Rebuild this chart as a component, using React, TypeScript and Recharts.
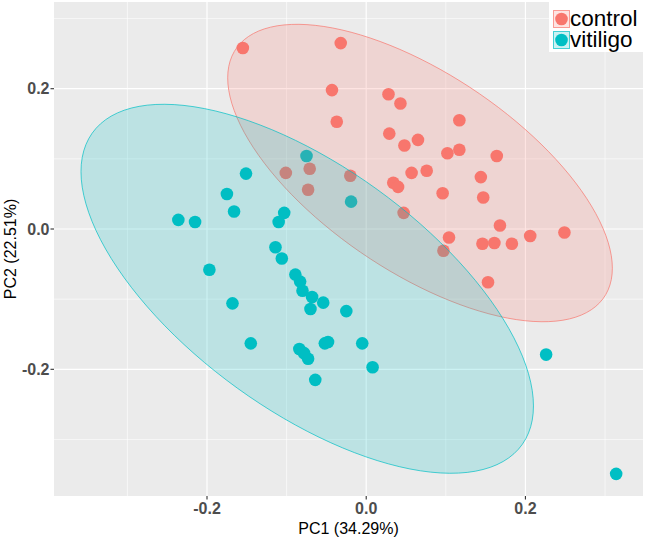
import { CartesianGrid, Label, Legend, Scatter, ScatterChart, XAxis, YAxis } from 'recharts';

// PCA scores
const controlPC1 = [
    -0.155, -0.032, -0.043, 0.028, 0.043, -0.037, 0.029, 0.048, 0.065, 0.117, 0.102, 0.117,
    0.164, 0.057, 0.076, 0.034, 0.040, 0.096, 0.144, 0.147, 0.047, 0.168, 0.104, 0.097,
    0.146, 0.161, 0.183, 0.206, 0.249, 0.153, -0.101, -0.071, -0.020, -0.073,
];
const controlPC2 = [
    0.258, 0.265, 0.198, 0.192, 0.179, 0.153, 0.136, 0.119, 0.127, 0.155, 0.108, 0.113,
    0.104, 0.080, 0.083, 0.066, 0.060, 0.051, 0.074, 0.045, 0.023, 0.005, -0.012, -0.031,
    -0.021, -0.020, -0.021, -0.010, -0.005, -0.076, 0.080, 0.086, 0.076, 0.056,
];
const vitiligoPC1 = [
    -0.151, -0.075, -0.019, -0.175, -0.166, -0.103, -0.110, -0.236, -0.215, -0.197, -0.114,
    -0.106, -0.089, -0.083, -0.080, -0.068, -0.054, -0.070, -0.025, -0.168, -0.145, -0.084,
    -0.078, -0.073, -0.052, -0.048, -0.005, 0.008, -0.064, 0.226, 0.314,
];
const vitiligoPC2 = [
    0.079, 0.104, 0.039, 0.050, 0.025, 0.023, 0.010, 0.013, 0.010, -0.058, -0.026,
    -0.042, -0.065, -0.075, -0.088, -0.097, -0.105, -0.114, -0.117, -0.106, -0.163, -0.171,
    -0.177, -0.185, -0.163, -0.161, -0.163, -0.197, -0.215, -0.179, -0.349,
];

// confidence ellipses: centre and spread matrix
const controlEllipse = { cx: 0.0676, cy: 0.0798, sxx: 0.05837, syy: 0.04494, sxy: -0.03277 };
const vitiligoEllipse = { cx: -0.0741, cy: -0.0852, sxx: 0.08077, syy: 0.06917, sxy: -0.04746 };

const majorTicks = [-0.2, 0, 0.2];
const minorTicks = [-0.3, -0.1, 0.1, 0.3];

const groups = [
    { name: 'control', color: '#F8766D' },
    { name: 'vitiligo', color: '#00BFC4' },
];

const toPoints = (xs: number[], ys: number[]) => xs.map((x, i) => ({ x, y: ys[i] }));

function ellipseOutline(e: typeof controlEllipse) {
    const l11 = Math.sqrt(e.sxx);
    const l21 = e.sxy / l11;
    const l22 = Math.sqrt(e.syy - l21 * l21);
    const pts = [];
    for (let i = 0; i <= 120; i++) {
        const t = (i / 120) * Math.PI * 2;
        pts.push({ x: e.cx + l11 * Math.cos(t), y: e.cy + l21 * Math.cos(t) + l22 * Math.sin(t) });
    }
    return pts;
}

const dot = (color: string) => (p: any) => <circle cx={p.cx} cy={p.cy} r={6.3} fill={color} />;
const noDot = () => <g />;

const tickStyle = { fill: '#4D4D4D', fontSize: 16, fontWeight: 'bold' };

function KeyLegend() {
    return (
        <div style={{ background: '#fff', width: 94, height: 52, position: 'relative' }}>
            {groups.map((g, i) => (
                <div
                    key={g.name}
                    style={{ position: 'absolute', left: 4, top: 10 + i * 20.5, height: 18, display: 'flex', alignItems: 'center' }}
                >
                    <svg width={17} height={18} style={{ display: 'block' }}>
                        <rect x={0.5} y={0.5} width={16} height={17} fill={g.color} fillOpacity={0.2} stroke={g.color} strokeOpacity={0.7} />
                        <circle cx={8.5} cy={9} r={6.3} fill={g.color} />
                    </svg>
                    <span style={{ fontSize: 22.5, lineHeight: '18px', color: '#000' }}>{g.name}</span>
                </div>
            ))}
        </div>
    );
}

export default function App() {
    return (
        <div style={{ position: 'absolute', left: 0, top: 0, fontFamily: '"Liberation Sans", Arial, sans-serif' }}>
            <ScatterChart width={645} height={538} margin={{ top: 2, right: 2, left: 0, bottom: 0 }}>
                <CartesianGrid
                    fill="#EBEBEB"
                    stroke="#FFFFFF"
                    strokeWidth={0.6}
                    horizontalValues={minorTicks}
                    verticalValues={minorTicks}
                />
                <CartesianGrid
                    stroke="#FFFFFF"
                    strokeWidth={1.2}
                    horizontalValues={majorTicks}
                    verticalValues={majorTicks}
                />
                <XAxis
                    type="number"
                    dataKey="x"
                    domain={[-0.3922, 0.3477]}
                    allowDataOverflow
                    ticks={majorTicks}
                    tickFormatter={(v: number) => v.toFixed(1)}
                    height={42}
                    axisLine={false}
                    tickLine={{ stroke: '#333333', strokeWidth: 1.1 }}
                    tickSize={3.5}
                    tickMargin={3}
                    tick={tickStyle}
                >
                    <Label
                        content={({ viewBox }: any) => (
                            <text x={viewBox.x + viewBox.width / 2} y={533.5} textAnchor="middle" fontSize={16} fill="#000">
                                PC1 (34.29%)
                            </text>
                        )}
                    />
                </XAxis>
                <YAxis
                    type="number"
                    dataKey="y"
                    domain={[-0.3806, 0.3236]}
                    allowDataOverflow
                    ticks={majorTicks}
                    tickFormatter={(v: number) => v.toFixed(1)}
                    width={54}
                    axisLine={false}
                    tickLine={{ stroke: '#333333', strokeWidth: 1.1 }}
                    tickSize={3.5}
                    tickMargin={1}
                    tick={tickStyle}
                >
                    <Label
                        content={({ viewBox }: any) => {
                            const cy = viewBox.y + viewBox.height / 2;
                            return (
                                <text x={15.5} y={cy} textAnchor="middle" fontSize={16} fill="#000" transform={`rotate(-90 15.5 ${cy})`}>
                                    PC2 (22.51%)
                                </text>
                            );
                        }}
                    />
                </YAxis>
                <Scatter data={toPoints(controlPC1, controlPC2)} shape={dot(groups[0].color)} isAnimationActive={false} />
                <Scatter data={toPoints(vitiligoPC1, vitiligoPC2)} shape={dot(groups[1].color)} isAnimationActive={false} />
                <Scatter
                    data={ellipseOutline(controlEllipse)}
                    shape={noDot}
                    line={{ stroke: groups[0].color, strokeWidth: 1, strokeOpacity: 0.7, fill: groups[0].color, fillOpacity: 0.2 }}
                    lineType="joint"
                    isAnimationActive={false}
                />
                <Scatter
                    data={ellipseOutline(vitiligoEllipse)}
                    shape={noDot}
                    line={{ stroke: groups[1].color, strokeWidth: 1, strokeOpacity: 0.7, fill: groups[1].color, fillOpacity: 0.2 }}
                    lineType="joint"
                    isAnimationActive={false}
                />
                <Legend
                    layout="vertical"
                    align="center"
                    verticalAlign="middle"
                    content={() => <KeyLegend />}
                    wrapperStyle={{ left: 549, top: 0, width: 94, height: 52 }}
                />
            </ScatterChart>
        </div>
    );
}
